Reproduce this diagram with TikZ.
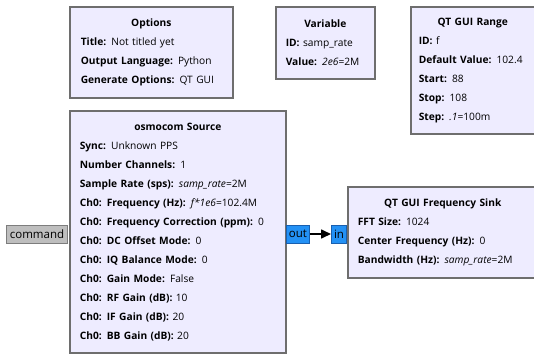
\documentclass[tikz,border=0pt]{standalone}
\usepackage{fontspec}
\setmainfont{Open Sans}
\usetikzlibrary{arrows.meta}
\definecolor{blockfill}{RGB}{238,236,255}
\definecolor{blockline}{RGB}{110,110,110}
\definecolor{portfill}{RGB}{35,145,245}
\definecolor{portline}{RGB}{25,95,175}
\definecolor{cmdfill}{RGB}{190,190,190}
\definecolor{cmdline}{RGB}{125,125,125}
\tikzset{
  blk/.style={draw=blockline,fill=blockfill,line width=1.6pt,anchor=north west,
    align=left,inner xsep=10pt,font=\fontsize{10.2}{19}\selectfont},
  prt/.style={draw=portline,fill=portfill,line width=1pt,inner sep=0pt,
    minimum height=18pt,font=\fontsize{11.5}{14}\selectfont},
  cmdprt/.style={prt,draw=cmdline,fill=cmdfill},
  flow/.style={line width=1.6pt,-{Triangle[length=10pt,width=9pt]}}
}
\newcommand{\hd}[1]{{\centering\textbf{#1}\par}}
\begin{document}
\begin{tikzpicture}[x=1pt,y=-1pt]
  \useasboundingbox (0,0) rectangle (534,353);
  \clip (0,0) rectangle (534,353);
  \node(opt)[blk,text width=141pt,minimum height=91pt,inner xsep=11pt] at (69,6){\hd{Options}
    \textbf{Title:} Not titled yet\\
    \textbf{Output Language:} Python\\
    \textbf{Generate Options:} QT GUI};
  \node(var)[blk,text width=79pt,minimum height=72pt] at (275,6){\hd{Variable}
    \textbf{ID:} samp\_rate\\
    \textbf{Value:} \textit{2e6}=2M};
  \node(rng)[blk,text width=108pt,minimum height=127pt,inner xsep=8pt] at (410,6){\hd{QT GUI Range}
    \textbf{ID:} f\\
    \textbf{Default Value:} 102.4\\
    \textbf{Start:} 88\\
    \textbf{Stop:} 108\\
    \textbf{Step:} \textit{.1}=100m};
  \node(src)[blk,text width=196pt,minimum height=242pt] at (69,110){\hd{osmocom Source}
    \textbf{Sync:} Unknown PPS\\
    \textbf{Number Channels:} 1\\
    \textbf{Sample Rate (sps):} \textit{samp\_rate}=2M\\
    \textbf{Ch0: Frequency (Hz):} \textit{f*1e6}=102.4M\\
    \textbf{Ch0: Frequency Correction (ppm):} 0\\
    \textbf{Ch0: DC Offset Mode:} 0\\
    \textbf{Ch0: IQ Balance Mode:} 0\\
    \textbf{Ch0: Gain Mode:} False\\
    \textbf{Ch0: RF Gain (dB):} 10\\
    \textbf{Ch0: IF Gain (dB):} 20\\
    \textbf{Ch0: BB Gain (dB):} 20};
  \node(snk)[blk,text width=170pt,minimum height=91pt] at (347,186){\hd{QT GUI Frequency Sink}
    \textbf{FFT Size:} 1024\\
    \textbf{Center Frequency (Hz):} 0\\
    \textbf{Bandwidth (Hz):} \textit{samp\_rate}=2M};
  \node(cmd)[cmdprt,minimum width=61pt,anchor=east] at (68,234){command};
  \node(out)[prt,minimum width=23pt,anchor=west] at (286,234){out};
  \node(in)[prt,minimum width=15pt,anchor=east] at (347,234){in};
  \draw[flow] (out) -- (in);
\end{tikzpicture}
\end{document}
